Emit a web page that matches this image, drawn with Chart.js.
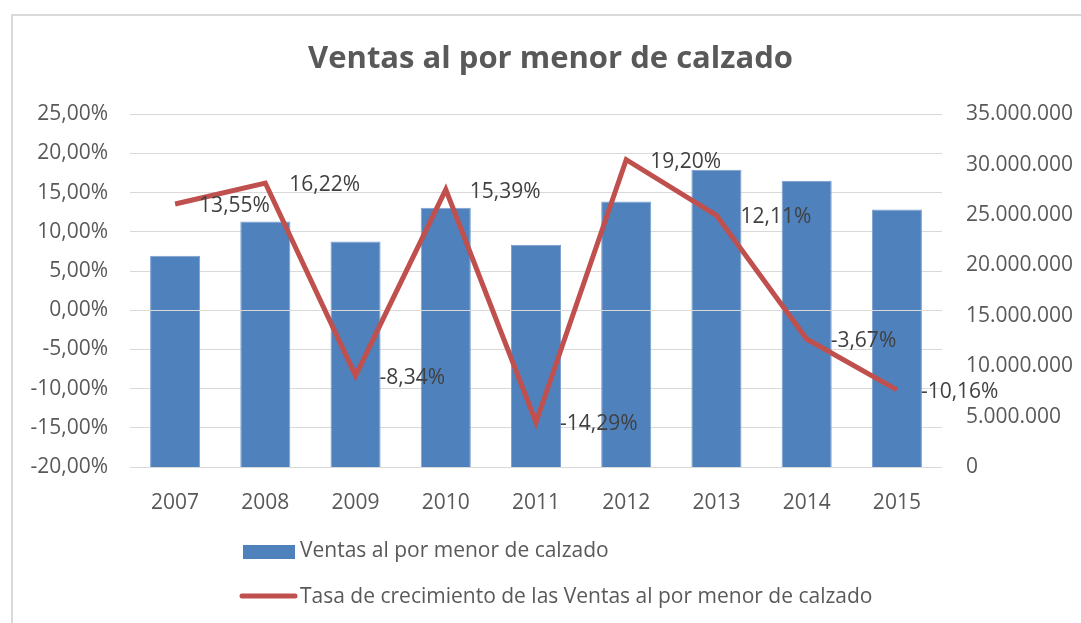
<!DOCTYPE html>
<html>
<head>
<meta charset="utf-8">
<script src="https://cdn.jsdelivr.net/npm/chart.js@4.4.0/dist/chart.umd.min.js"></script>
<style>
  body { margin: 0; background: #fff; }
  #wrap { position: relative; width: 1081px; height: 623px; overflow: hidden; }
  #frame { position: absolute; left: 11px; top: 14px; width: 1100px; height: 700px; border: 2px solid #d9d9d9; box-sizing: border-box; }
  canvas { position: absolute; left: 0; top: 0; }
</style>
</head>
<body>
<div id="wrap">
  <div id="frame"></div>
  <canvas id="chart" width="1081" height="623"></canvas>
</div>
<script>
// data
const years = ['2007', '2008', '2009', '2010', '2011', '2012', '2013', '2014', '2015'];
const ventas = [20950000, 24350000, 22370000, 25730000, 22040000, 26330000, 29500000, 28410000, 25540000];
const tasa = [13.55, 16.22, -8.34, 15.39, -14.29, 19.20, 12.11, -3.67, -10.16];

const barName = 'Ventas al por menor de calzado';
const lineName = 'Tasa de crecimiento de las Ventas al por menor de calzado';

const FONT = "'Open Sans', sans-serif";
const GRAY = '#595959';

function pct(v) {
    return v.toFixed(2).replace('.', ',') + '%';
}

function miles(v) {
    return String(Math.round(v)).replace(/\B(?=(\d{3})+(?!\d))/g, '.');
}

// light axis line at 0% drawn over the bars
const zeroLine = {
    id: 'zeroLine',
    afterDatasetDraw(chart, args) {
        if (args.index !== 0) return;
        const ctx = chart.ctx;
        const y = Math.round(chart.scales.y.getPixelForValue(0)) + 0.5;
        ctx.save();
        ctx.strokeStyle = '#d9d9d9';
        ctx.lineWidth = 1;
        ctx.beginPath();
        ctx.moveTo(chart.chartArea.left, y);
        ctx.lineTo(chart.chartArea.right, y);
        ctx.stroke();
        ctx.restore();
    }
};

// data labels to the right of the line points
const lineLabels = {
    id: 'lineLabels',
    afterDatasetsDraw(chart) {
        const ctx = chart.ctx;
        const meta = chart.getDatasetMeta(1);
        ctx.save();
        ctx.font = '21px ' + FONT;
        ctx.fillStyle = '#404040';
        ctx.textAlign = 'left';
        ctx.textBaseline = 'middle';
        meta.data.forEach((pt, i) => {
            ctx.fillText(pct(tasa[i]), pt.x + 24, pt.y + 2);
        });
        ctx.restore();
    }
};

// two stacked legend rows under the axis
const stackedLegend = {
    id: 'stackedLegend',
    afterDraw(chart) {
        const ctx = chart.ctx;
        const ds = chart.data.datasets;
        ctx.save();
        ctx.font = '21px ' + FONT;
        ctx.textAlign = 'left';
        ctx.textBaseline = 'middle';

        ctx.fillStyle = ds[0].backgroundColor;
        ctx.fillRect(243, 545, 52, 14);
        ctx.fillStyle = GRAY;
        ctx.fillText(ds[0].label, 300, 551);

        ctx.strokeStyle = ds[1].borderColor;
        ctx.lineWidth = 5;
        ctx.lineCap = 'round';
        ctx.beginPath();
        ctx.moveTo(242, 596);
        ctx.lineTo(295, 596);
        ctx.stroke();
        ctx.fillText(ds[1].label, 300, 597);
        ctx.restore();
    }
};

new Chart(document.getElementById('chart'), {
    data: {
        labels: years,
        datasets: [{
            type: 'bar',
            label: barName,
            data: ventas,
            yAxisID: 'y1',
            backgroundColor: '#4f81bd',
            borderColor: '#7a9fcf',
            borderWidth: 1,
            barPercentage: 0.555,
            categoryPercentage: 1,
            order: 1
        }, {
            type: 'line',
            label: lineName,
            data: tasa,
            yAxisID: 'y',
            borderColor: '#c0504d',
            backgroundColor: '#c0504d',
            borderWidth: 5,
            pointRadius: 0,
            tension: 0,
            order: 0
        }]
    },
    options: {
        responsive: false,
        animation: false,
        layout: { padding: { left: 20, right: 0, top: 0, bottom: 106 } },
        plugins: {
            legend: { display: false },
            tooltip: { enabled: false },
            title: {
                display: true,
                text: 'Ventas al por menor de calzado',
                color: GRAY,
                font: { family: FONT, size: 31, weight: 'bold', lineHeight: 1.2 },
                padding: { top: 41, bottom: 36 }
            }
        },
        scales: {
            x: {
                offset: true,
                grid: { display: false },
                border: { display: false },
                ticks: { color: GRAY, font: { family: FONT, size: 21 }, padding: 15 },
                afterFit(s) { s.height = 50; }
            },
            y: {
                position: 'left',
                min: -20,
                max: 25,
                grid: { color: '#d9d9d9', lineWidth: 1, drawTicks: false },
                border: { display: false },
                ticks: {
                    stepSize: 5,
                    color: GRAY,
                    font: { family: FONT, size: 21 },
                    padding: 22,
                    callback: v => pct(v)
                },
                afterFit(s) { s.width = 110; }
            },
            y1: {
                position: 'right',
                min: 0,
                max: 35000000,
                grid: { display: false, drawTicks: false },
                border: { display: false },
                ticks: {
                    stepSize: 5000000,
                    color: GRAY,
                    font: { family: FONT, size: 21 },
                    padding: 24,
                    callback: v => miles(v)
                },
                afterFit(s) { s.width = 139; }
            }
        }
    },
    plugins: [zeroLine, lineLabels, stackedLegend]
});
</script>
</body>
</html>
